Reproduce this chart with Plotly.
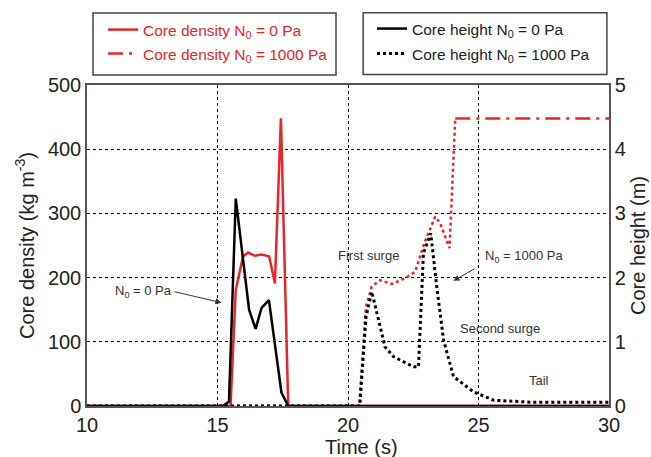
import plotly.graph_objects as go

# Core density, N0 = 0 Pa (left axis, kg m^-3)
t_dens0 = [10, 15.50, 15.70, 15.98, 16.17, 16.43, 16.69, 16.98, 17.20, 17.43, 17.71, 30]
dens0 = [0, 0, 181, 233, 239, 234, 236, 233, 191, 448, 0, 0]

# Core density, N0 = 1000 Pa (rise part and plateau part)
t_dens1000_rise = [10, 20.43, 20.69, 20.91, 21.23, 21.68, 22.19, 22.57, 22.92, 23.34, 23.53, 23.89, 24.11]
dens1000_rise = [0, 0, 155, 186, 196, 190, 199, 209, 253, 295, 285, 246, 448]
t_dens1000_plateau = [24.11, 30]
dens1000_plateau = [448, 448]

# Core height, N0 = 0 Pa (right axis, m)
t_h0 = [10, 15.21, 15.44, 15.70, 16.21, 16.46, 16.69, 16.97, 17.45, 17.71, 30]
h0 = [0, 0, 0.07, 3.23, 1.50, 1.20, 1.53, 1.65, 0.21, 0, 0]

# Core height, N0 = 1000 Pa
t_h1000 = [10, 20.45, 20.69, 20.91, 21.42, 21.74, 22.51, 22.70, 22.89, 23.17, 23.40,
           23.66, 24.04, 24.81, 25.58, 26.30, 27.0, 30]
h1000 = [0, 0, 1.39, 1.78, 0.92, 0.77, 0.61, 0.61, 2.38, 2.69, 1.86,
         1.03, 0.46, 0.22, 0.09, 0.07, 0.06, 0.06]

RED = "#e8262a"
FONT = "Liberation Sans, Arial, sans-serif"
LEG_SIZE = 15.5

fig = go.Figure()

fig.add_trace(go.Scatter(x=t_dens0, y=dens0, mode="lines",
                         line=dict(color=RED, width=2.5),
                         name="Core density N<sub>0</sub> = 0 Pa", legend="legend"))
fig.add_trace(go.Scatter(x=t_dens1000_plateau, y=dens1000_plateau, mode="lines",
                         line=dict(color=RED, width=2.5, dash="longdashdot"),
                         name="Core density N<sub>0</sub> = 1000 Pa", legend="legend2"))
fig.add_trace(go.Scatter(x=t_dens1000_rise, y=dens1000_rise, mode="lines",
                         line=dict(color=RED, width=2.5, dash="dot"),
                         showlegend=False, legend="legend2"))
fig.add_trace(go.Scatter(x=t_h0, y=h0, mode="lines", yaxis="y2",
                         line=dict(color="black", width=2.5),
                         name="Core height N<sub>0</sub> = 0 Pa", legend="legend3"))
fig.add_trace(go.Scatter(x=t_h1000, y=h1000, mode="lines", yaxis="y2",
                         line=dict(color="black", width=3, dash="dot"),
                         name="Core height N<sub>0</sub> = 1000 Pa", legend="legend4"))

ann_font = dict(family=FONT, size=13, color="#333333")
annotations = [
    dict(x=15.15, y=161, ax=13.35, ay=178, xref="x", yref="y", axref="x", ayref="y",
         text="N<sub>0</sub> = 0 Pa", showarrow=True, arrowhead=2, arrowsize=1.2,
         arrowwidth=1, arrowcolor="#333333", xanchor="right", font=ann_font),
    dict(x=24.04, y=195, ax=24.9, ay=215, xref="x", yref="y", axref="x", ayref="y",
         text="", showarrow=True, arrowhead=2, arrowsize=1.2,
         arrowwidth=1, arrowcolor="#333333"),
    dict(x=26.76, y=233, xref="x", yref="y", text="N<sub>0</sub> = 1000 Pa",
         showarrow=False, font=ann_font),
    dict(x=20.77, y=234, xref="x", yref="y", text="First surge",
         showarrow=False, font=ann_font),
    dict(x=25.84, y=121, xref="x", yref="y", text="Second surge",
         showarrow=False, font=ann_font),
    dict(x=27.31, y=40, xref="x", yref="y", text="Tail",
         showarrow=False, font=ann_font),
    # x-axis title (placed as in the reference, slightly right of centre)
    dict(x=0.525, y=-0.128, xref="paper", yref="paper", text="Time (s)",
         showarrow=False, xanchor="center", yanchor="middle",
         font=dict(size=20, family=FONT, color="#222222")),
]

shapes = [
    dict(type="rect", xref="paper", yref="paper", x0=0.0115, x1=0.477, y0=1.031, y1=1.224,
         line=dict(color="#444444", width=1.5), fillcolor="rgba(0,0,0,0)", layer="above"),
    dict(type="rect", xref="paper", yref="paper", x0=0.529, x1=0.996, y0=1.033, y1=1.225,
         line=dict(color="#444444", width=1.5), fillcolor="rgba(0,0,0,0)", layer="above"),
]

grid = dict(showgrid=True, gridcolor="black", griddash="dot", gridwidth=1)


def leg(x, y, color):
    return dict(x=x, y=y, xanchor="left", yanchor="middle", borderwidth=0,
                bgcolor="rgba(0,0,0,0)", itemwidth=30,
                font=dict(size=LEG_SIZE, family=FONT, color=color))


fig.update_layout(
    width=651, height=457,
    margin=dict(l=87, r=42, t=85, b=51),
    paper_bgcolor="white", plot_bgcolor="white",
    font=dict(family=FONT, color="#222222"),
    xaxis=dict(range=[10, 30], tickvals=[10, 15, 20, 25, 30], **grid,
               showline=True, linecolor="#555555", linewidth=1.5, mirror=True,
               ticks="", zeroline=False, automargin=False,
               tickfont=dict(size=20, family=FONT)),
    yaxis=dict(range=[0, 500], tickvals=[0, 100, 200, 300, 400, 500], **grid,
               showline=True, linecolor="#555555", linewidth=1.5,
               ticks="", zeroline=False, automargin=False,
               tickfont=dict(size=20, family=FONT),
               title=dict(text="Core density (kg m<sup>-3</sup>)", font=dict(size=20, family=FONT),
                          standoff=8)),
    yaxis2=dict(range=[0, 5], tickvals=[0, 1, 2, 3, 4, 5], overlaying="y", side="right",
                showgrid=False, showline=True, linecolor="#555555", linewidth=1.5,
                ticks="", zeroline=False, automargin=False,
                tickfont=dict(size=20, family=FONT),
                title=dict(text="Core height (m)", font=dict(size=20, family=FONT), standoff=6)),
    legend=leg(0.0307, 1.1713, RED),
    legend2=leg(0.0307, 1.0966, RED),
    legend3=leg(0.546, 1.1745, "#222222"),
    legend4=leg(0.546, 1.0966, "#222222"),
    annotations=annotations,
    shapes=shapes,
    showlegend=True,
)

fig.write_html("out.html")
